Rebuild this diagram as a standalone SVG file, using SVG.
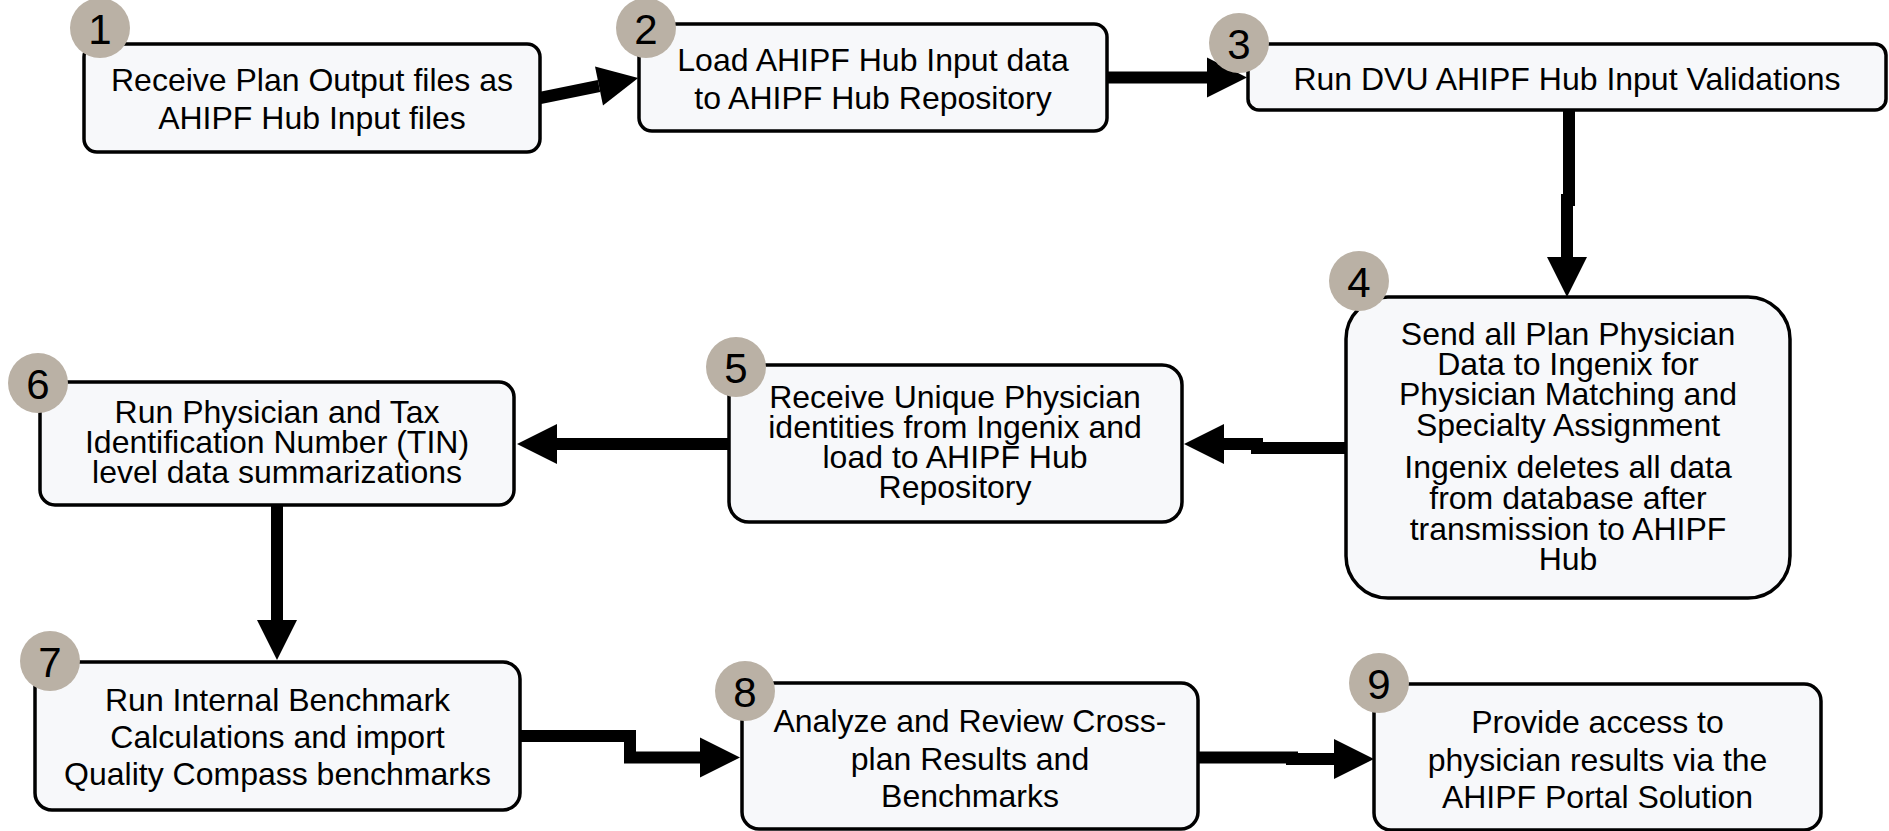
<svg xmlns="http://www.w3.org/2000/svg" width="1889" height="831" viewBox="0 0 1889 831">
<defs>
<style>
.box{fill:#f7f8fa;stroke:#000;stroke-width:3.5}
.num{fill:#bab1a5}
.nt{font-family:"Liberation Sans",Arial,sans-serif;font-size:42px;fill:#000;text-anchor:middle}
.t{font-family:"Liberation Sans",Arial,sans-serif;font-size:32px;fill:#000;text-anchor:middle}
.c{fill:none;stroke:#000;stroke-width:12;stroke-linejoin:miter;marker-end:url(#ah)}
</style>
<marker id="ah" markerUnits="userSpaceOnUse" markerWidth="42" markerHeight="42" refX="0" refY="20" orient="auto" overflow="visible">
<path d="M0,0 L40,20 L0,40 Z" fill="#000"/>
</marker>
</defs>
<rect width="1889" height="831" fill="#fff"/>
<g id="connectors">
<path class="c" d="M540,98 L599,86"/>
<path class="c" d="M1107,77.5 H1207"/>
<path class="c" d="M1569,110 V200 H1567 V257"/>
<path class="c" d="M1346,448 H1257 V444 H1224"/>
<path class="c" d="M729,444 H557"/>
<path class="c" d="M277,505 V620"/>
<path class="c" d="M520,736 H630 V757.5 H700"/>
<path class="c" d="M1198,757.5 H1292 V759 H1334"/>
</g>
<g id="node1">
<rect class="box" x="84" y="44" width="456" height="108" rx="13"/>
<circle class="num" cx="100" cy="28" r="30"/>
<text class="nt" x="100" y="44">1</text>
<text class="t" x="312" y="91">Receive Plan Output files as</text>
<text class="t" x="312" y="129">AHIPF Hub Input files</text>
</g>
<g id="node2">
<rect class="box" x="639" y="24" width="468" height="107" rx="13"/>
<circle class="num" cx="646" cy="28" r="30"/>
<text class="nt" x="646" y="44">2</text>
<text class="t" x="873" y="71">Load AHIPF Hub Input data</text>
<text class="t" x="873" y="109">to AHIPF Hub Repository</text>
</g>
<g id="node3">
<rect class="box" x="1248" y="44" width="638" height="66" rx="11"/>
<circle class="num" cx="1239" cy="43" r="30"/>
<text class="nt" x="1239" y="59">3</text>
<text class="t" x="1567" y="90">Run DVU AHIPF Hub Input Validations</text>
</g>
<g id="node4">
<rect class="box" x="1346" y="297" width="444" height="301" rx="42"/>
<circle class="num" cx="1359" cy="281" r="30"/>
<text class="nt" x="1359" y="297">4</text>
<text class="t" x="1568" y="345">Send all Plan Physician</text>
<text class="t" x="1568" y="375">Data to Ingenix for</text>
<text class="t" x="1568" y="405">Physician Matching and</text>
<text class="t" x="1568" y="436">Specialty Assignment</text>
<text class="t" x="1568" y="478">Ingenix deletes all data</text>
<text class="t" x="1568" y="509">from database after</text>
<text class="t" x="1568" y="540">transmission to AHIPF</text>
<text class="t" x="1568" y="570">Hub</text>
</g>
<g id="node5">
<rect class="box" x="729" y="365" width="453" height="157" rx="20"/>
<circle class="num" cx="736" cy="367" r="30"/>
<text class="nt" x="736" y="383">5</text>
<text class="t" x="955" y="408">Receive Unique Physician</text>
<text class="t" x="955" y="438">identities from Ingenix and</text>
<text class="t" x="955" y="468">load to AHIPF Hub</text>
<text class="t" x="955" y="498">Repository</text>
</g>
<g id="node6">
<rect class="box" x="40" y="382" width="474" height="123" rx="15"/>
<circle class="num" cx="38" cy="383" r="30"/>
<text class="nt" x="38" y="399">6</text>
<text class="t" x="277" y="423">Run Physician and Tax</text>
<text class="t" x="277" y="453">Identification Number (TIN)</text>
<text class="t" x="277" y="483">level data summarizations</text>
</g>
<g id="node7">
<rect class="box" x="35" y="662" width="485" height="148" rx="17"/>
<circle class="num" cx="50" cy="661" r="30"/>
<text class="nt" x="50" y="677">7</text>
<text class="t" x="277.5" y="711">Run Internal Benchmark</text>
<text class="t" x="277.5" y="748">Calculations and import</text>
<text class="t" x="277.5" y="785">Quality Compass benchmarks</text>
</g>
<g id="node8">
<rect class="box" x="742" y="683" width="456" height="146" rx="17"/>
<circle class="num" cx="745" cy="691" r="30"/>
<text class="nt" x="745" y="707">8</text>
<text class="t" x="970" y="732">Analyze and Review Cross-</text>
<text class="t" x="970" y="770">plan Results and</text>
<text class="t" x="970" y="807">Benchmarks</text>
</g>
<g id="node9">
<rect class="box" x="1374" y="684" width="447" height="146" rx="17"/>
<circle class="num" cx="1379" cy="683" r="30"/>
<text class="nt" x="1379" y="699">9</text>
<text class="t" x="1597.5" y="733">Provide access to</text>
<text class="t" x="1597.5" y="771">physician results via the</text>
<text class="t" x="1597.5" y="808">AHIPF Portal Solution</text>
</g>
</svg>
